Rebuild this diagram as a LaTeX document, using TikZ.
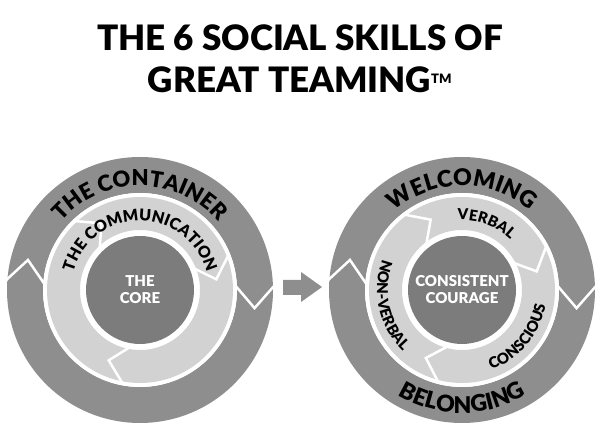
\documentclass[tikz,border=0pt]{standalone}
\usepackage{fontspec}
\setmainfont{Lato}[BoldFont={Lato Black}]
\usetikzlibrary{decorations.text,arrows.meta}
\definecolor{ringdark}{HTML}{8E8E8E}
\definecolor{ringlight}{HTML}{D2D2D2}
\definecolor{coregray}{HTML}{7C7C7C}
\tikzset{
  outerring/.style={fill=ringdark},
  lightring/.style={fill=ringlight},
  core/.style={circle,fill=coregray,minimum size=108pt,inner sep=0pt,align=center,text=white,font=\bfseries\fontsize{15}{17}\selectfont},
  chev/.style={draw=white,line width=2.5pt,line join=miter},
  curv/.style={decorate,decoration={text along path,text align=center}},
}
\newcommand{\rings}[1]{%
  \fill[outerring,even odd rule] (#1) circle (133) (#1) circle (97);
  \fill[white,even odd rule] (#1) circle (97) (#1) circle (93);
  \fill[lightring,even odd rule] (#1) circle (93) (#1) circle (60);
}
\newcommand{\chv}[5]{% center, arm angle, tip angle, rin, rout
  \draw[chev,shift={(#1)}] (#2:#4) -- (#3:{(#4+#5)/2}) -- (#2:#5);
}
\begin{document}
\begin{tikzpicture}[x=1pt,y=1pt]
\useasboundingbox (0,0) rectangle (600,423);
\node[font=\bfseries\fontsize{35}{42}\selectfont,align=center] (title) at (300,364) {THE 6 SOCIAL SKILLS OF\\GREAT TEAMING\textsuperscript{\fontsize{13}{13}\selectfont TM}};
\coordinate (c1) at (140,133);
\coordinate (c2) at (462,133);
% left diagram
\rings{c1}
\chv{c1}{177}{165}{95}{137}
\chv{c1}{3}{-9}{95}{137}
\chv{c1}{134}{120}{58}{96}
\chv{c1}{22}{8}{58}{96}
\chv{c1}{260}{246}{58}{96}
\node[core] (core1) at (c1) {THE\\CORE};
\path[curv,decoration={text={|\bfseries\fontsize{22}{22}\selectfont|THE CONTAINER}}] ([shift={(c1)}]175:104) arc (175:5:104);
\path[curv,decoration={text={|\bfseries\fontsize{16}{16}\selectfont|THE COMMUNICATION}}] ([shift={(c1)}]195:69) arc (195:-15:69);
% right diagram
\rings{c2}
\chv{c2}{177}{165}{95}{137}
\chv{c2}{3}{-9}{95}{137}
\chv{c2}{128}{114}{58}{96}
\chv{c2}{28}{14}{58}{96}
\chv{c2}{256}{242}{58}{96}
\node[core] (core2) at (c2) {CONSISTENT\\COURAGE};
\path[curv,decoration={text={|\bfseries\fontsize{23}{23}\selectfont|WELCOMING}}] ([shift={(c2)}]150:104) arc (150:30:104);
\path[curv,decoration={text={|\bfseries\fontsize{23}{23}\selectfont|BELONGING}}] ([shift={(c2)}]212:123) arc (212:328:123);
\path[curv,decoration={text={|\bfseries\fontsize{15}{15}\selectfont|VERBAL}}] ([shift={(c2)}]115:70) arc (115:25:70);
\path[curv,decoration={text={|\bfseries\fontsize{15}{15}\selectfont|CONSCIOUS}}] ([shift={(c2)}]265:85) arc (265:375:85);
\path[curv,decoration={text={|\bfseries\fontsize{15}{15}\selectfont|NON-VERBAL}}] ([shift={(c2)}]135:85) arc (135:250:85);
% middle arrow
\fill[ringdark] (283,128) -- (301,128) -- (301,121) -- (322,136) -- (301,151) -- (301,143) -- (283,143) -- cycle;
\end{tikzpicture}
\end{document}
